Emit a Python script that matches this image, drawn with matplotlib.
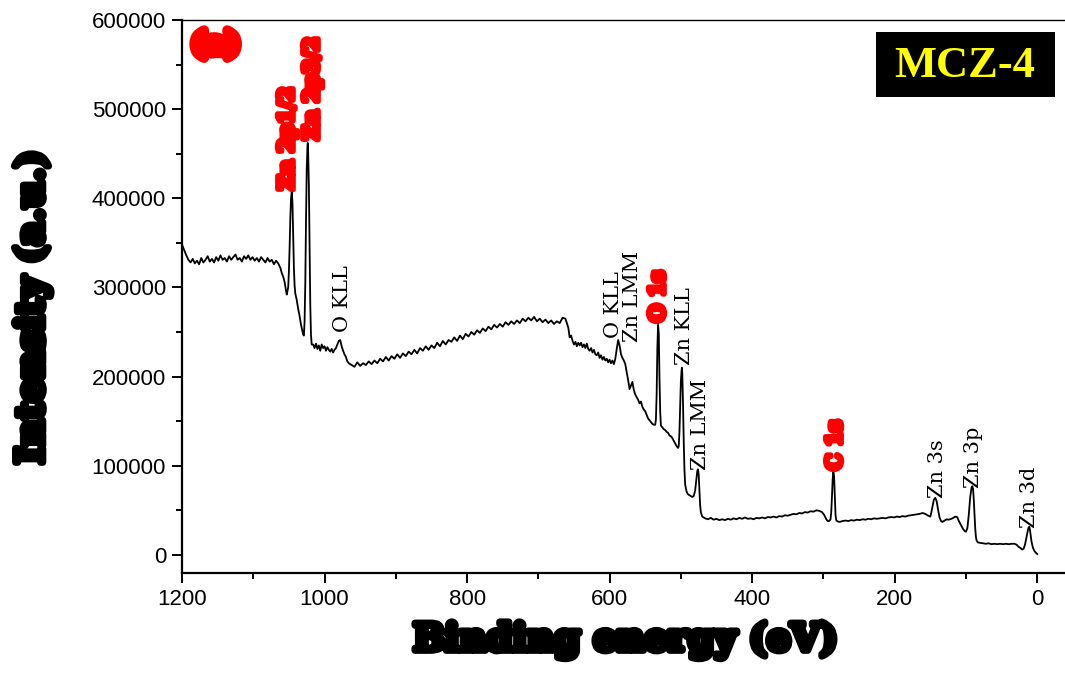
import numpy as np
import matplotlib
matplotlib.use("Agg")
import matplotlib.pyplot as plt
import matplotlib.patheffects as pe
from matplotlib.ticker import MultipleLocator
from matplotlib.patches import Rectangle

# --- XPS survey of MCZ-4 ---
# binding energy in eV, intensity in thousands of counts

# flat background above the Zn 2p lines
be_start = np.arange(1200, 1064, -3)
cps_start = [348, 342, 336, 331, 328, 332, 327, 330, 326, 333,
             328, 331, 335, 329, 332, 328, 334, 330, 336, 331,
             333, 329, 335, 331, 334, 337, 331, 333, 329, 335,
             332, 336, 331, 334, 330, 333, 329, 334, 331, 328,
             333, 329, 331, 326, 330, 327]

# Zn 2p doublet
be_zn2p = [1062, 1060, 1058, 1056, 1054, 1053, 1051, 1050, 1049, 1048,
           1047, 1046, 1045, 1044, 1043, 1042, 1041, 1039, 1037, 1035,
           1033, 1031, 1030, 1029, 1028, 1027, 1026, 1025, 1024, 1023.5,
           1023, 1022, 1021, 1020, 1019, 1018]
cps_zn2p = [322, 316, 312, 306, 296, 292, 300, 318, 345, 378,
            400, 407, 395, 360, 322, 302, 293, 286, 276, 268,
            258, 251, 247, 246, 262, 305, 375, 432, 458, 462,
            452, 415, 345, 280, 246, 236]

# shelf with the O KLL bump
be_shelf = np.arange(1016, 964, -2)
cps_shelf = [236, 232, 237, 231, 235, 229, 236, 232, 234, 229,
             233, 230, 228, 231, 227, 230, 232, 236, 240, 241,
             234, 229, 225, 222, 217, 215]

# broad hump 960-660 eV
be_hump = np.arange(962, 658, -4)
cps_hump = [213, 211, 216, 212, 215, 213, 217, 214, 218, 215,
            220, 217, 222, 218, 223, 220, 225, 221, 226, 223,
            228, 225, 230, 226, 232, 229, 234, 230, 235, 232,
            238, 234, 240, 236, 241, 239, 244, 240, 246, 242,
            248, 245, 250, 247, 252, 249, 254, 251, 256, 253,
            258, 255, 259, 256, 261, 258, 262, 259, 263, 260,
            265, 262, 266, 263, 267, 262, 265, 261, 264, 260,
            263, 259, 262, 260, 266, 265]

# O Auger region
be_oauger = np.arange(658, 574, -2)
cps_oauger = [255, 244, 246, 240, 236, 239, 234, 238, 235, 238,
              233, 236, 232, 237, 231, 229, 232, 227, 230, 225,
              224, 227, 221, 224, 219, 222, 218, 220, 216, 219,
              215, 218, 214, 220, 231, 241, 235, 225, 221, 218,
              214, 205]

be_slope = np.arange(574, 537, -2)
cps_slope = [196, 186, 190, 194, 185, 180, 177, 174, 170, 172,
             166, 163, 161, 157, 153, 151, 149, 147, 146]

# O 1s
be_o1s = [536, 535, 534, 533, 532, 531, 530, 529, 528]
cps_o1s = [146, 152, 180, 232, 258, 248, 198, 160, 145]

be_tail = np.arange(526, 503, -2)
cps_tail = [143, 141, 140, 138, 137, 134, 133, 131, 128, 125, 122, 120]

# Zn Auger (KLL / LMM)
be_znaug = [503, 502, 501, 500, 499, 498.5, 498, 497, 496, 495,
            494, 492, 490, 488, 486, 484, 482, 480, 478, 477,
            476, 475, 474, 473, 472, 470, 468, 466]
cps_znaug = [122, 138, 165, 195, 207, 210, 203, 170, 128, 96,
             79, 71, 68, 67, 66, 65, 66, 72, 87, 94,
             96, 90, 72, 56, 48, 43, 42, 41]

# low background up to C 1s
be_low = np.arange(462, 301, -4)
cps_low = [40, 41.5, 39.5, 40.5, 39, 40, 39, 40.5, 39.5, 41,
           40, 41.5, 40.5, 42, 40.5, 41, 40, 41.5, 41, 42,
           41, 42.5, 42, 43, 42, 43.5, 43, 44.5, 44, 45,
           46, 45.5, 47, 46.5, 48, 47.5, 49, 48.5, 50, 49.5,
           48]

# C 1s
be_c1s = [299, 296, 294, 292, 290, 289, 288, 287, 286, 285, 284, 283, 282, 280]
cps_c1s = [45, 40, 38, 38, 40, 48, 65, 85, 93, 88, 65, 45, 39, 37.5]

be_low2 = np.arange(277, 150, -4)
cps_low2 = [37, 38, 38.5, 38, 39, 38.5, 39.5, 39, 40, 39.5,
            40.5, 40, 41, 40.5, 41, 41.5, 41, 42, 42.5, 42,
            43, 42.5, 43.5, 43, 44, 44.5, 45, 45.5, 46, 47,
            46, 44]

# Zn 3s / 3p
be_zn3 = [150, 149, 147, 145, 143, 141, 139, 137, 135, 133,
          131, 129, 127, 125, 122, 119, 116, 114, 112, 110,
          108, 106, 104, 102, 100, 98, 96, 94, 92, 91,
          90, 89, 88, 87, 86, 85, 83, 80]
cps_zn3 = [43, 46, 54, 62, 64, 60, 50, 42, 38, 37,
           38, 39, 40, 39.5, 40, 41, 42.5, 43, 42, 38,
           35, 32, 29, 27, 26, 30, 45, 65, 76, 77,
           74, 62, 45, 30, 20, 16, 14, 13.5]

# Zn 3d / valence
be_zn3d = [76, 72, 68, 64, 60, 56, 52, 48, 44, 40,
           36, 32, 29, 26, 23, 21, 19, 17, 15, 13,
           12, 11, 10, 8, 6, 4, 2, 0]
cps_zn3d = [13, 12.5, 13, 12, 12.5, 12, 12.5, 12, 12.5, 12,
            12.5, 12.5, 11.5, 9, 7.5, 6, 7, 12, 20, 28,
            31, 31.5, 27, 15, 8, 4.5, 2.5, 1]

be = np.concatenate([be_start, be_zn2p, be_shelf, be_hump, be_oauger, be_slope,
                     be_o1s, be_tail, be_znaug, be_low, be_c1s, be_low2,
                     be_zn3, be_zn3d])
counts = np.concatenate([cps_start, cps_zn2p, cps_shelf, cps_hump, cps_oauger,
                         cps_slope, cps_o1s, cps_tail, cps_znaug, cps_low,
                         cps_c1s, cps_low2, cps_zn3, cps_zn3d]) * 1000

# peak labels: text, energy, intensity (k) where the label starts
peak_names = ["Zn 2p1/2", "Zn 2p3/2", "O KLL", "O KLL", "Zn LMM", "O 1s",
              "Zn KLL", "Zn LMM", "C 1s", "Zn 3s", "Zn 3p", "Zn 3d"]
peak_be = [1052.6, 1017.5, 975, 595, 568, 532, 495, 473, 283.5, 140.5, 90, 11]
peak_base = [409, 465, 250, 243, 239, 261, 213, 95, 95, 64, 75, 30]
red_peaks = {"Zn 2p1/2", "Zn 2p3/2", "O 1s", "C 1s"}

fig = plt.figure(figsize=(10.65, 6.77), dpi=100)
ax = fig.add_axes([0.1709, 0.154, 0.8291, 0.8165])

ax.plot(be, counts, color="black", lw=1.3)

ax.set_xlim(1200, -39)
ax.set_ylim(-20000, 600000)
ax.xaxis.set_major_locator(MultipleLocator(200))
ax.xaxis.set_minor_locator(MultipleLocator(100))
ax.yaxis.set_major_locator(MultipleLocator(100000))
ax.yaxis.set_minor_locator(MultipleLocator(50000))
ax.tick_params(which="major", direction="out", length=7.5, width=1.4,
               labelsize=16, pad=4)
ax.tick_params(which="minor", direction="out", length=4, width=1.4)
for lbl in ax.get_xticklabels() + ax.get_yticklabels():
    lbl.set_family("Liberation Sans")
ax.spines["right"].set_visible(False)
ax.spines["left"].set_linewidth(1.6)
ax.spines["bottom"].set_linewidth(1.6)
ax.spines["top"].set_linewidth(1.0)

heavy = [pe.withStroke(linewidth=5, foreground="black", joinstyle="round")]
ax.set_xlabel("Binding energy (eV)", fontsize=27, fontweight="bold",
              family="DejaVu Serif", path_effects=heavy, va="top")
ax.xaxis.set_label_coords(0.5017, -0.088)
ax.set_ylabel("Intensity (a.u.)", fontsize=27, fontweight="bold",
              family="DejaVu Serif", path_effects=heavy)
ax.yaxis.set_label_coords(-0.148, 0.48)

red_fx = [pe.withStroke(linewidth=4, foreground="red", joinstyle="round")]
for name, x, y in zip(peak_names, peak_be, peak_base):
    if name in red_peaks:
        ax.text(x, y * 1000, name, rotation=90, ha="center", va="bottom",
                color="red", fontsize=15, fontweight="bold",
                family="DejaVu Serif", path_effects=red_fx)
    else:
        ax.text(x, y * 1000, name, rotation=90, ha="center", va="bottom",
                color="black", fontsize=15, family="DejaVu Serif")

ax.text(0.038, 0.955, "(a)", transform=ax.transAxes, ha="center", va="center",
        color="red", fontsize=22, fontweight="bold", family="DejaVu Serif",
        path_effects=[pe.withStroke(linewidth=7, foreground="red", joinstyle="round")])

ax.add_patch(Rectangle((0.786, 0.860), 0.2027, 0.119, transform=ax.transAxes,
                       facecolor="black", edgecolor="none", zorder=5))
ax.text(0.8867, 0.9159, "MCZ-4", transform=ax.transAxes, ha="center", va="center",
        color="#ffff00", fontsize=32, fontweight="bold", family="Liberation Serif",
        zorder=6)

fig.savefig("out.png", dpi=100)
